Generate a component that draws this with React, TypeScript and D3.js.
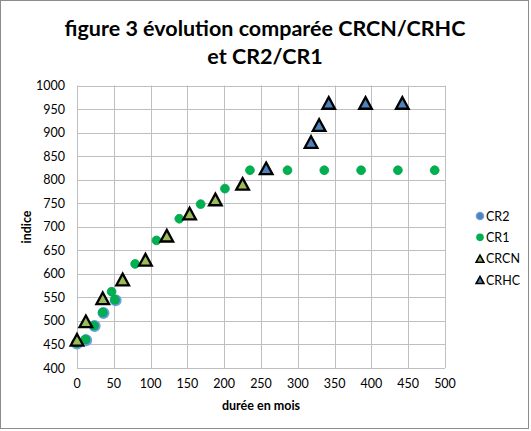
import React, { useEffect, useRef } from "react";
import * as d3 from "d3";

// durée en mois / indice
const cr2X = [0, 12.5, 24, 36, 52.5];
const cr2Y = [452, 459, 489, 517, 544];

const cr1X = [0, 11.5, 23, 35, 47, 51.5, 79, 108, 139, 168, 201, 235, 286, 336, 386, 436, 486];
const cr1Y = [453, 461, 490, 518, 562, 545, 621, 671, 717, 748, 781, 820, 820, 820, 820, 820, 820];

const crcnX = [0, 12, 35, 62, 93, 122, 153, 188, 225];
const crcnY = [460, 499, 548, 588, 630, 681, 728, 758, 791];

const crhcX = [257, 318, 329, 342, 392, 442];
const crhcY = [824, 880, 916, 963, 963, 963];

const xTicks = [0, 50, 100, 150, 200, 250, 300, 350, 400, 450, 500];
const yTicks = [400, 450, 500, 550, 600, 650, 700, 750, 800, 850, 900, 950, 1000];

const legendNames = ["CR2", "CR1", "CRCN", "CRHC"];

const W = 531;
const H = 431;
const font = "Lato, 'Open Sans', sans-serif";

// triangle centred on its bounding box, like the spreadsheet markers
const boxTriangle = {
  draw(ctx: any, size: number) {
    const s = Math.sqrt(size);
    const h = s * 0.92;
    ctx.moveTo(0, -h / 2);
    ctx.lineTo(s / 2, h / 2);
    ctx.lineTo(-s / 2, h / 2);
    ctx.closePath();
  },
};

const App: React.FC = () => {
  const svgRef = useRef<SVGSVGElement>(null);

  useEffect(() => {
    if (!svgRef.current) return;
    const svg = d3.select(svgRef.current);
    svg.selectAll("*").remove();

    const x = d3.scaleLinear().domain([0, 500]).range([77, 445]);
    const y = d3.scaleLinear().domain([400, 1000]).range([368, 85.5]);

    svg
      .append("rect")
      .attr("x", 0.5)
      .attr("y", 0.5)
      .attr("width", W - 3)
      .attr("height", H - 3)
      .attr("fill", "#fff")
      .attr("stroke", "#8c8c8c")
      .attr("stroke-width", 1);

    // title
    const title = svg
      .append("text")
      .attr("text-anchor", "middle")
      .attr("font-family", font)
      .attr("font-weight", "bold")
      .attr("font-size", 21.5)
      .attr("fill", "#000");
    title.append("tspan").attr("x", 265).attr("y", 36).text("figure 3 évolution comparée CRCN/CRHC");
    title.append("tspan").attr("x", 265).attr("y", 64).text("et CR2/CR1");

    // grid
    const grid = svg.append("g").attr("stroke", "#bfbfbf").attr("stroke-width", 1);
    grid
      .selectAll("line.v")
      .data(xTicks)
      .join("line")
      .attr("class", "v")
      .attr("x1", (d) => Math.round(x(d)) + 0.5)
      .attr("x2", (d) => Math.round(x(d)) + 0.5)
      .attr("y1", y(1000))
      .attr("y2", y(400));
    grid
      .selectAll("line.h")
      .data(yTicks)
      .join("line")
      .attr("class", "h")
      .attr("x1", x(0))
      .attr("x2", x(500))
      .attr("y1", (d) => Math.round(y(d)) + 0.5)
      .attr("y2", (d) => Math.round(y(d)) + 0.5);

    // tick labels
    svg
      .append("g")
      .selectAll("text")
      .data(xTicks)
      .join("text")
      .attr("x", (d) => x(d))
      .attr("y", 388)
      .attr("text-anchor", "middle")
      .attr("font-family", font)
      .attr("font-size", 12.5)
      .attr("fill", "#000")
      .text((d) => d);
    svg
      .append("g")
      .selectAll("text")
      .data(yTicks)
      .join("text")
      .attr("x", 65)
      .attr("y", (d) => y(d) + 4.5)
      .attr("text-anchor", "end")
      .attr("font-family", font)
      .attr("font-size", 12.5)
      .attr("fill", "#000")
      .text((d) => d);

    // axis titles
    svg
      .append("text")
      .attr("x", 261)
      .attr("y", 410)
      .attr("text-anchor", "middle")
      .attr("font-family", font)
      .attr("font-weight", "bold")
      .attr("font-size", 12.5)
      .text("durée en mois");
    svg
      .append("text")
      .attr("transform", "translate(31,227) rotate(-90)")
      .attr("text-anchor", "middle")
      .attr("font-family", font)
      .attr("font-weight", "bold")
      .attr("font-size", 12.5)
      .text("indice");

    const tri = d3.symbol().type(boxTriangle as any);

    // CR2
    svg
      .append("g")
      .selectAll("circle")
      .data(d3.zip(cr2X, cr2Y))
      .join("circle")
      .attr("cx", (d) => x(d[0]))
      .attr("cy", (d) => y(d[1]))
      .attr("r", 5)
      .attr("fill", "#4f81bd")
      .attr("stroke", "#6f9fdc")
      .attr("stroke-width", 2);

    // CR1
    svg
      .append("g")
      .selectAll("circle")
      .data(d3.zip(cr1X, cr1Y))
      .join("circle")
      .attr("cx", (d) => x(d[0]))
      .attr("cy", (d) => y(d[1]))
      .attr("r", 4.4)
      .attr("fill", "#00b050")
      .attr("stroke", "#00a64b")
      .attr("stroke-width", 0.8);

    // CRCN
    svg
      .append("g")
      .selectAll("path")
      .data(d3.zip(crcnX, crcnY))
      .join("path")
      .attr("transform", (d) => `translate(${x(d[0])},${y(d[1])})`)
      .attr("d", tri.size(160)())
      .attr("fill", "#9bbb59")
      .attr("stroke", "#000")
      .attr("stroke-width", 2.3)
      .attr("stroke-linejoin", "miter");

    // CRHC
    svg
      .append("g")
      .selectAll("path")
      .data(d3.zip(crhcX, crhcY))
      .join("path")
      .attr("transform", (d) => `translate(${x(d[0])},${y(d[1])})`)
      .attr("d", tri.size(160)())
      .attr("fill", "#4f81bd")
      .attr("stroke", "#000")
      .attr("stroke-width", 2.3)
      .attr("stroke-linejoin", "miter");

    // legend
    const legend = svg.append("g");
    const ly = d3.scalePoint().domain(legendNames).range([216, 280]);
    legendNames.forEach((name, i) => {
      const g = legend.append("g").attr("transform", `translate(480,${ly(name)})`);
      if (i === 0) {
        g.append("circle").attr("r", 3.6).attr("fill", "#4f81bd").attr("stroke", "#6f9fdc").attr("stroke-width", 1.4);
      } else if (i === 1) {
        g.append("circle").attr("r", 3.8).attr("fill", "#00b050");
      } else {
        g.append("path")
          .attr("d", tri.size(60)())
          .attr("fill", i === 2 ? "#9bbb59" : "#4f81bd")
          .attr("stroke", "#000")
          .attr("stroke-width", 1.6);
      }
      g.append("text")
        .attr("x", 6)
        .attr("y", 4.5)
        .attr("font-family", font)
        .attr("font-size", 12.5)
        .text(name);
    });
  }, []);

  return (
    <svg
      ref={svgRef}
      width={W}
      height={H}
      style={{ position: "absolute", left: 0, top: 0 }}
    />
  );
};

export default App;
